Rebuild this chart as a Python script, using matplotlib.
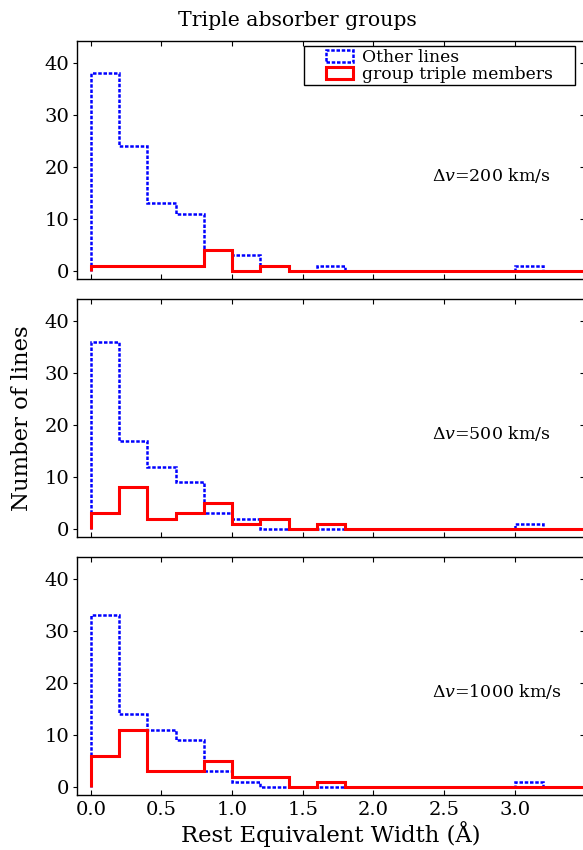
import numpy as np
import matplotlib
matplotlib.use("Agg")
import matplotlib.pyplot as plt
from matplotlib.patches import Rectangle
from matplotlib.legend_handler import HandlerPatch

plt.rcParams['font.family'] = 'DejaVu Serif'
plt.rcParams['mathtext.fontset'] = 'dejavuserif'

# bin edges of rest equivalent width (Angstrom)
edges = np.round(np.arange(0.0, 3.61, 0.2), 2)

# counts per bin, one row per velocity window
dv_labels = ["200", "500", "1000"]
other_200 = [38, 24, 13, 11, 4, 3, 1, 0, 1, 0, 0, 0, 0, 0, 0, 1, 0, 0]
group_200 = [1, 1, 1, 1, 4, 0, 1, 0, 0, 0, 0, 0, 0, 0, 0, 0, 0, 0]
other_500 = [36, 17, 12, 9, 3, 2, 0, 0, 0, 0, 0, 0, 0, 0, 0, 1, 0, 0]
group_500 = [3, 8, 2, 3, 5, 1, 2, 0, 1, 0, 0, 0, 0, 0, 0, 0, 0, 0]
other_1000 = [33, 14, 11, 9, 3, 1, 0, 0, 0, 0, 0, 0, 0, 0, 0, 1, 0, 0]
group_1000 = [6, 11, 3, 3, 5, 2, 2, 0, 1, 0, 0, 0, 0, 0, 0, 0, 0, 0]

others = [other_200, other_500, other_1000]
groups = [group_200, group_500, group_1000]


def box_handle(legend, orig_handle, xdescent, ydescent, width, height, fontsize):
    # rectangle sits in the right part of the handle box (old style legend spacing)
    x0 = -xdescent + width * 0.42
    return Rectangle((x0, -ydescent), width * 0.58, height)


fig, axes = plt.subplots(3, 1, figsize=(5.83, 8.5), dpi=100, sharex=True)
fig.subplots_adjust(left=76.7 / 583, right=584 / 583, top=1 - 41 / 850,
                    bottom=1 - 795 / 850, hspace=0.083)

for i, ax in enumerate(axes):
    ax.hist(edges[:-1], bins=edges, weights=others[i], histtype='step',
            color='blue', linewidth=1.8, linestyle=(0, (1.4, 0.7)),
            label='Other lines')
    ax.hist(edges[:-1], bins=edges, weights=groups[i], histtype='step',
            color='red', linewidth=2.2, label='group triple members')
    ax.set_xlim(-0.1, 3.49)
    ax.set_ylim(-1.55, 44.2)
    ax.set_yticks([0, 10, 20, 30, 40])
    ax.set_xticks([0.0, 0.5, 1.0, 1.5, 2.0, 2.5, 3.0])
    ax.tick_params(axis='x', direction='in', top=True, length=3.5, width=0.8,
                   labelsize=14, pad=4)
    ax.tick_params(axis='y', direction='out', right=False, length=3.2,
                   width=0.8, labelsize=14, pad=2)
    # right side ticks point inwards
    sec = ax.secondary_yaxis('right')
    sec.set_yticks([0, 10, 20, 30, 40])
    sec.tick_params(direction='in', length=3.2, width=0.8, labelright=False)
    for sp in ax.spines.values():
        sp.set_linewidth(1.0)
    ax.text(0.70, 0.435, r'$\Delta v$=' + dv_labels[i] + ' km/s',
            transform=ax.transAxes, fontsize=12.5, va='center', ha='left')

h, l = axes[0].get_legend_handles_labels()
leg = axes[0].legend(h, l, loc='upper right',
                     bbox_to_anchor=(0.448, 0.5, 0.534, 0.479),
                     mode='expand', fontsize=12.3, fancybox=False,
                     borderaxespad=0, handlelength=2.72, handletextpad=0.55,
                     borderpad=0.15, labelspacing=0.0, framealpha=1,
                     handler_map={hh: HandlerPatch(patch_func=box_handle) for hh in h})
leg.get_frame().set_edgecolor('black')

axes[2].set_xlabel(u'Rest Equivalent Width (\u00c5)', fontsize=16.4, labelpad=2)
fig.text(297 / 583, 1 - 20 / 850, 'Triple absorber groups', fontsize=14.7,
         ha='center', va='center')
fig.text(22 / 583, 1 - 418.5 / 850, 'Number of lines', fontsize=16.4, rotation=90,
         ha='center', va='center')

plt.savefig('out.png', dpi=100)
